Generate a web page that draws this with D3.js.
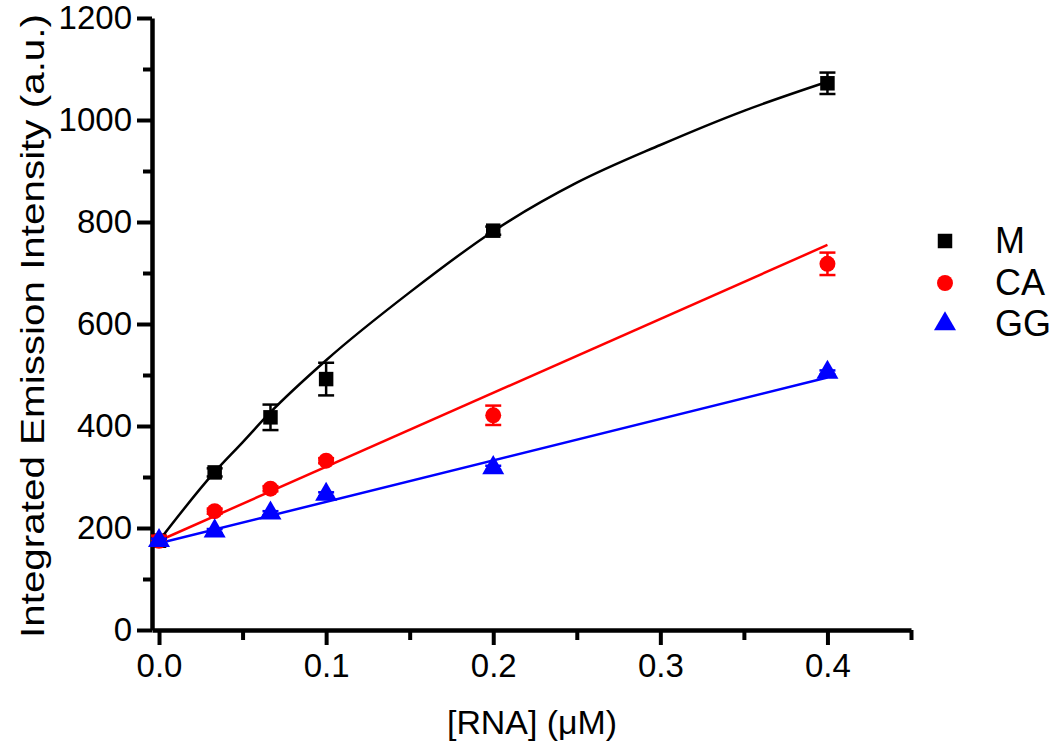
<!DOCTYPE html>
<html>
<head>
<meta charset="utf-8">
<script src="https://cdn.jsdelivr.net/npm/d3@7"></script>
<style>
  html, body { margin: 0; padding: 0; background: #fff; }
  svg text { font-family: "Liberation Sans", Arial, sans-serif; fill: #000; }
</style>
</head>
<body>
<svg id="chart" width="1050" height="746"></svg>
<script>
// ---- data ----
const concentrations = [0, 0.0333, 0.0667, 0.1, 0.2, 0.4];
const seriesNames = ["M", "CA", "GG"];
const valuesM  = [175, 309, 417, 492, 783, 1072];
const errorsM  = [6, 8, 25, 32, 8, 21];
const valuesCA = [175, 233, 277, 332, 421, 718];
const errorsCA = [10, 5, 5, 5, 19, 22];
const valuesGG = [175, 194, 229, 266, 318, 505];
const errorsGG = [4, 4, 4, 4, 4, 4];

// fitted curves
const fitXM = [0, 0.0333, 0.05, 0.0667, 0.1, 0.15, 0.2, 0.25, 0.3, 0.35, 0.4];
const fitYM = [175, 310, 368, 427, 529, 662, 782, 877, 951, 1018, 1075];
const fitXCA = [0, 0.4];
const fitYCA = [175, 755];
const fitXGG = [0, 0.4];
const fitYGG = [170, 495];

const xMajorTicks = [0, 0.1, 0.2, 0.3, 0.4];
const xMinorTicks = [0.05, 0.15, 0.25, 0.35, 0.45];
const yMajorTicks = [0, 200, 400, 600, 800, 1000, 1200];
const yMinorTicks = [100, 300, 500, 700, 900, 1100];

const xTitle = "[RNA] (\u03BCM)";
const yTitle = "Integrated Emission Intensity (a.u.)";

const colors = {M: "#000000", CA: "#ff0000", GG: "#0000ff"};
const symbols = {M: d3.symbolSquare, CA: d3.symbolCircle, GG: d3.symbolTriangle};
const symSizes = {M: 210, CA: 200, GG: 210};

// ---- scales ----
const x = d3.scaleLinear().domain([-0.0042, 0.45]).range([152, 911]);
const y = d3.scaleLinear().domain([0, 1200]).range([630, 18]);

const svg = d3.select("#chart");

// ---- axes ----
const axisW = 4.5;
function styleAxis(g) {
  g.selectAll("path.domain").attr("stroke", "#000").attr("stroke-width", axisW);
  g.selectAll(".tick line").attr("stroke", "#000").attr("stroke-width", 4);
}

// y axis
const gy = svg.append("g").attr("transform", "translate(152,0)");
gy.call(d3.axisLeft(y).tickValues(yMajorTicks).tickSize(15).tickSizeOuter(0).tickFormat(d3.format("d")));
styleAxis(gy);
gy.selectAll(".tick text")
  .attr("font-size", 33).attr("font-family", "Liberation Sans, Arial, sans-serif")
  .attr("x", -20).attr("dy", null).attr("y", 10.5);
const gyMinor = svg.append("g").attr("transform", "translate(152,0)");
gyMinor.call(d3.axisLeft(y).tickValues(yMinorTicks).tickSize(9).tickSizeOuter(0).tickFormat(""));
styleAxis(gyMinor);
gyMinor.select("path.domain").remove();

// x axis
const gx = svg.append("g").attr("transform", "translate(0,630)");
gx.call(d3.axisBottom(x).tickValues(xMajorTicks).tickSize(15).tickSizeOuter(0).tickFormat(d3.format(".1f")));
styleAxis(gx);
gx.selectAll(".tick text")
  .attr("font-size", 33).attr("font-family", "Liberation Sans, Arial, sans-serif")
  .attr("dy", null).attr("y", 47);
const gxMinor = svg.append("g").attr("transform", "translate(0,630)");
gxMinor.call(d3.axisBottom(x).tickValues(xMinorTicks).tickSize(10).tickSizeOuter(0).tickFormat(""));
styleAxis(gxMinor);
gxMinor.select("path.domain").remove();

// axis titles
svg.append("text")
  .attr("x", 532).attr("y", 734)
  .attr("text-anchor", "middle")
  .attr("font-size", 34)
  .attr("textLength", 170).attr("lengthAdjust", "spacingAndGlyphs")
  .text(xTitle);
svg.append("text")
  .attr("transform", "translate(44,326) rotate(-90)")
  .attr("text-anchor", "middle")
  .attr("font-size", 34)
  .attr("textLength", 624).attr("lengthAdjust", "spacingAndGlyphs")
  .text(yTitle);

// ---- fit lines ----
const lineGen = d3.line().x(d => x(d[0])).y(d => y(d[1])).curve(d3.curveMonotoneX);
const fits = [
  {name: "M", xs: fitXM, ys: fitYM},
  {name: "CA", xs: fitXCA, ys: fitYCA},
  {name: "GG", xs: fitXGG, ys: fitYGG}
];
fits.forEach(f => {
  svg.append("path")
    .datum(f.xs.map((v, i) => [v, f.ys[i]]))
    .attr("d", lineGen)
    .attr("fill", "none")
    .attr("stroke", colors[f.name])
    .attr("stroke-width", 2.5);
});

// ---- points with error bars ----
const series = [
  {name: "M", vals: valuesM, errs: errorsM},
  {name: "CA", vals: valuesCA, errs: errorsCA},
  {name: "GG", vals: valuesGG, errs: errorsGG}
];
series.forEach(s => {
  const pts = concentrations.map((c, i) => ({c, v: s.vals[i], e: s.errs[i]}));
  const g = svg.append("g");
  const eb = g.selectAll("g.eb").data(pts).enter().append("g")
    .attr("stroke", colors[s.name]).attr("stroke-width", 2.5);
  eb.append("line")
    .attr("x1", d => x(d.c)).attr("x2", d => x(d.c))
    .attr("y1", d => y(d.v - d.e)).attr("y2", d => y(d.v + d.e));
  eb.append("line")
    .attr("x1", d => x(d.c) - 8).attr("x2", d => x(d.c) + 8)
    .attr("y1", d => y(d.v - d.e)).attr("y2", d => y(d.v - d.e));
  eb.append("line")
    .attr("x1", d => x(d.c) - 8).attr("x2", d => x(d.c) + 8)
    .attr("y1", d => y(d.v + d.e)).attr("y2", d => y(d.v + d.e));
  g.selectAll("path.pt").data(pts).enter().append("path")
    .attr("d", d3.symbol().type(symbols[s.name]).size(symSizes[s.name]))
    .attr("transform", d => `translate(${x(d.c)},${y(d.v)})`)
    .attr("fill", colors[s.name]);
});

// ---- legend ----
const legendY = [241, 283, 324];
seriesNames.forEach((n, i) => {
  svg.append("path")
    .attr("d", d3.symbol().type(symbols[n]).size(symSizes[n])())
    .attr("transform", `translate(945,${legendY[i]})`)
    .attr("fill", colors[n]);
  svg.append("text")
    .attr("x", 995).attr("y", legendY[i] + 12)
    .attr("font-size", 36)
    .text(n);
});
</script>
</body>
</html>
